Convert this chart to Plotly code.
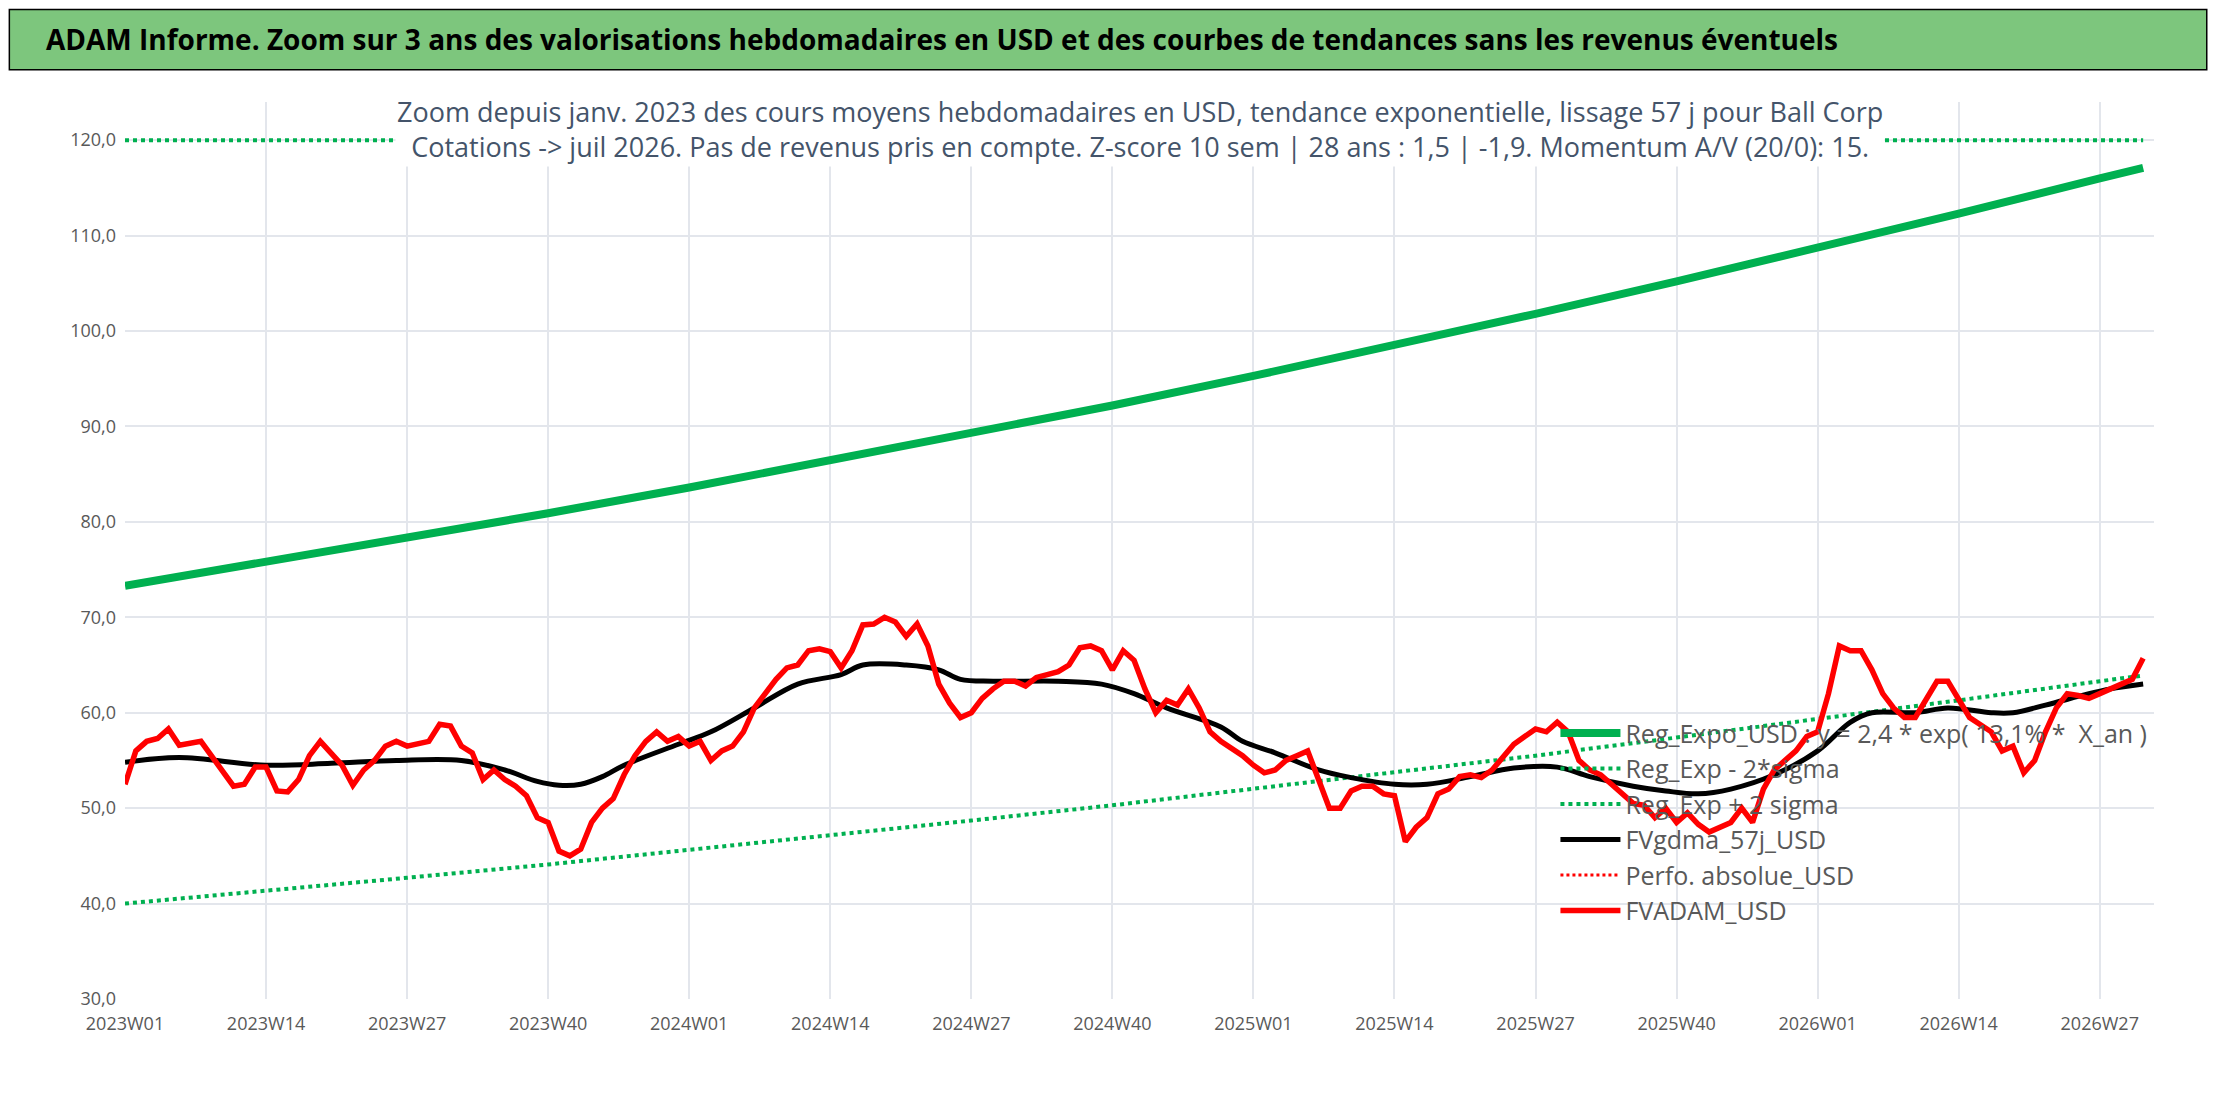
"""
ADAM_zoom_plot.py

【功能說明】
------------------------------------------------------------
繪製 Ball Corp 三年週線估值（USD）與指數趨勢線的放大圖，輸出 out.html
"""
import plotly.graph_objects as go


def build_weeks():
    """產生 2023W01 起的週標籤"""
    weeks = []
    for year, n in [(2023, 52), (2024, 52), (2025, 52), (2026, 53)]:
        for w in range(1, n + 1):
            weeks.append(f"{year}W{w:02d}")
    return weeks[:187]


# 趨勢線（每 13 週一個點）
trend_x = [0, 13, 26, 39, 52, 65, 78, 91, 104, 117, 130, 143, 156, 169, 182, 186]
reg_expo = [73.3, 75.8, 78.3, 80.9, 83.6, 86.4, 89.3, 92.2, 95.3, 98.5, 101.8, 105.2, 108.7, 112.3, 116.0, 117.1]
reg_low = [40.0, 41.3, 42.7, 44.1, 45.6, 47.1, 48.7, 50.3, 52.0, 53.7, 55.5, 57.4, 59.3, 61.3, 63.3, 63.9]
reg_high = [120.0] * len(trend_x)  # 超出座標軸上限，貼在 120

# FVgdma_57j_USD（平滑線）
fvg = {0: 54.8, 5: 55.3, 13: 54.5, 19: 54.7, 25: 55.0, 31: 55.0, 35: 54.0, 38: 52.8, 40: 52.4, 42: 52.5,
       44: 53.3, 46: 54.5, 51: 56.7, 54: 58.0, 58: 60.5, 62: 63.0, 66: 64.0, 68: 65.0, 72: 65.0, 75: 64.5,
       77: 63.5, 80: 63.3, 86: 63.3, 90: 63.0, 93: 62.0, 96: 60.5, 101: 58.5, 103: 57.0, 106: 55.8,
       110: 54.0, 113: 53.2, 117: 52.5, 120: 52.5, 124: 53.3, 128: 54.2, 132: 54.3, 135: 53.3, 139: 52.3,
       142: 51.8, 145: 51.5, 148: 52.0, 152: 53.5, 156: 56.0, 159: 59.0, 161: 60.0, 165: 60.0, 168: 60.5,
       172: 60.0, 174: 60.0, 177: 60.8, 181: 62.0, 183: 62.5, 186: 63.0}

# FVADAM_USD（週值）
fvadam = {0: 52.5, 1: 56, 2: 57, 3: 57.3, 4: 58.3, 5: 56.6, 7: 57, 8: 55.5, 10: 52.3, 11: 52.5, 12: 54.3,
          13: 54.3, 14: 51.8, 15: 51.7, 16: 53, 17: 55.5, 18: 57, 20: 54.5, 21: 52.4, 22: 54, 23: 55,
          24: 56.5, 25: 57, 26: 56.5, 28: 57, 29: 58.8, 30: 58.6, 31: 56.5, 32: 55.8, 33: 53, 34: 54,
          35: 53, 36: 52.3, 37: 51.3, 38: 49, 39: 48.5, 40: 45.5, 41: 45, 42: 45.7, 43: 48.5, 44: 50,
          45: 51, 46: 53.5, 47: 55.5, 48: 57, 49: 58, 50: 57, 51: 57.5, 52: 56.5, 53: 57, 54: 55, 55: 56,
          56: 56.5, 57: 58, 58: 60.5, 59: 62, 60: 63.5, 61: 64.7, 62: 65, 63: 66.5, 64: 66.7, 65: 66.4,
          66: 64.7, 67: 66.5, 68: 69.2, 69: 69.3, 70: 70, 71: 69.5, 72: 68, 73: 69.3, 74: 67, 75: 63,
          76: 61, 77: 59.5, 78: 60, 79: 61.5, 80: 62.5, 81: 63.3, 82: 63.3, 83: 62.8, 84: 63.7, 85: 64,
          86: 64.3, 87: 65, 88: 66.8, 89: 67, 90: 66.5, 91: 64.5, 92: 66.5, 93: 65.5, 94: 62.5, 95: 60,
          96: 61.3, 97: 60.8, 98: 62.5, 99: 60.5, 100: 58, 101: 57, 102: 56.3, 103: 55.5, 104: 54.5,
          105: 53.7, 106: 54, 107: 55, 108: 55.5, 109: 56, 110: 53, 111: 50, 112: 50, 113: 51.8, 114: 52.3,
          115: 52.3, 116: 51.5, 117: 51.3, 118: 46.5, 119: 48, 120: 49, 121: 51.5, 122: 52, 123: 53.3,
          124: 53.5, 125: 53.2, 126: 54, 127: 55.3, 128: 56.7, 129: 57.5, 130: 58.3, 131: 58, 132: 59,
          133: 58, 134: 55, 135: 54, 136: 53.5, 137: 52.5, 138: 51.5, 139: 50.5, 140: 50.3, 141: 49,
          142: 50, 143: 48.5, 144: 49.5, 145: 48.3, 146: 47.5, 147: 48, 148: 48.5, 149: 50, 150: 48.5,
          151: 52, 152: 54, 153: 55, 154: 56, 155: 57.5, 156: 58, 157: 62, 158: 67, 159: 66.5, 160: 66.5,
          161: 64.5, 162: 62, 163: 60.5, 164: 59.5, 165: 59.5, 166: 61.5, 167: 63.3, 168: 63.3, 169: 61.5,
          170: 59.5, 172: 58, 173: 56, 174: 56.5, 175: 53.7, 176: 55, 177: 58, 178: 60.5, 179: 62,
          180: 61.8, 181: 61.5, 182: 62, 183: 62.5, 184: 63, 185: 63.5, 186: 65.7}

weeks = build_weeks()
GREEN = '#00B050'

fig = go.Figure()
fig.add_trace(go.Scatter(x=trend_x, y=reg_expo, mode='lines', name='Reg_Expo_USD : y = 2,4 * exp( 13,1% *  X_an )',
                         line=dict(color=GREEN, width=8)))
fig.add_trace(go.Scatter(x=trend_x, y=reg_low, mode='lines', name='Reg_Exp - 2*sigma',
                         line=dict(color=GREEN, width=4, dash='dot')))
fig.add_trace(go.Scatter(x=trend_x, y=reg_high, mode='lines', name='Reg_Exp + 2 sigma',
                         line=dict(color=GREEN, width=4, dash='dot')))
fig.add_trace(go.Scatter(x=list(fvg.keys()), y=list(fvg.values()), mode='lines', name='FVgdma_57j_USD',
                         line=dict(color='black', width=5, shape='spline')))
fig.add_trace(go.Scatter(x=[None], y=[None], mode='lines', name='Perfo. absolue_USD',
                         line=dict(color='#FF0000', width=3, dash='dot')))
fig.add_trace(go.Scatter(x=list(fvadam.keys()), y=list(fvadam.values()), mode='lines', name='FVADAM_USD',
                         line=dict(color='#FF0000', width=5.5)))

# 版面設定
fig.update_layout(
    template='plotly_white',
    font=dict(family='Open Sans, sans-serif', color='#595959'),
    margin=dict(l=117, r=54, t=94, b=95),
    plot_bgcolor='white',
    paper_bgcolor='white',
    legend=dict(x=0.705, y=0.322, xanchor='left', yanchor='top', bgcolor='rgba(0,0,0,0)',
                font=dict(size=25, color='#595959'), tracegroupgap=0, itemwidth=60),
    shapes=[dict(type='rect', xref='paper', yref='paper', x0=-0.057, x1=1.026, y0=1.036, y1=1.103,
                 fillcolor='#7DC67D', line=dict(color='black', width=1.5), layer='below')],
)
fig.add_annotation(text='<b>ADAM Informe. Zoom sur 3 ans des valorisations hebdomadaires en USD et des courbes de tendances sans les revenus éventuels</b>',
                   xref='paper', yref='paper', x=-0.04, y=1.07, xanchor='left', yanchor='middle',
                   showarrow=False, font=dict(size=28, color='black'))
fig.add_annotation(text='Zoom depuis janv. 2023 des cours moyens hebdomadaires en USD, tendance exponentielle, lissage 57 j pour Ball Corp<br>'
                        'Cotations -> juil 2026. Pas de revenus pris en compte. Z-score 10 sem | 28 ans : 1,5 | -1,9. Momentum A/V (20/0): 15.',
                   xref='paper', yref='paper', x=0.5, y=1.012, xanchor='center', yanchor='top',
                   showarrow=False, bgcolor='white', font=dict(size=27, color='#44546A'))
fig.update_xaxes(range=[0, 187], tickvals=list(range(0, 187, 13)), ticktext=weeks[0:187:13],
                 showgrid=True, gridcolor='#E3E6EC', gridwidth=1.5, zeroline=False,
                 tickfont=dict(size=18, color='#595959'), showline=False, ticklabelstandoff=12)
fig.update_yaxes(range=[30, 124], tickvals=list(range(30, 121, 10)),
                 ticktext=[f'{v},0' for v in range(30, 121, 10)],
                 showgrid=True, gridcolor='#E3E6EC', gridwidth=1.5, zeroline=False,
                 tickfont=dict(size=18, color='#595959'), ticklabelstandoff=8)
fig.write_html("out.html")
